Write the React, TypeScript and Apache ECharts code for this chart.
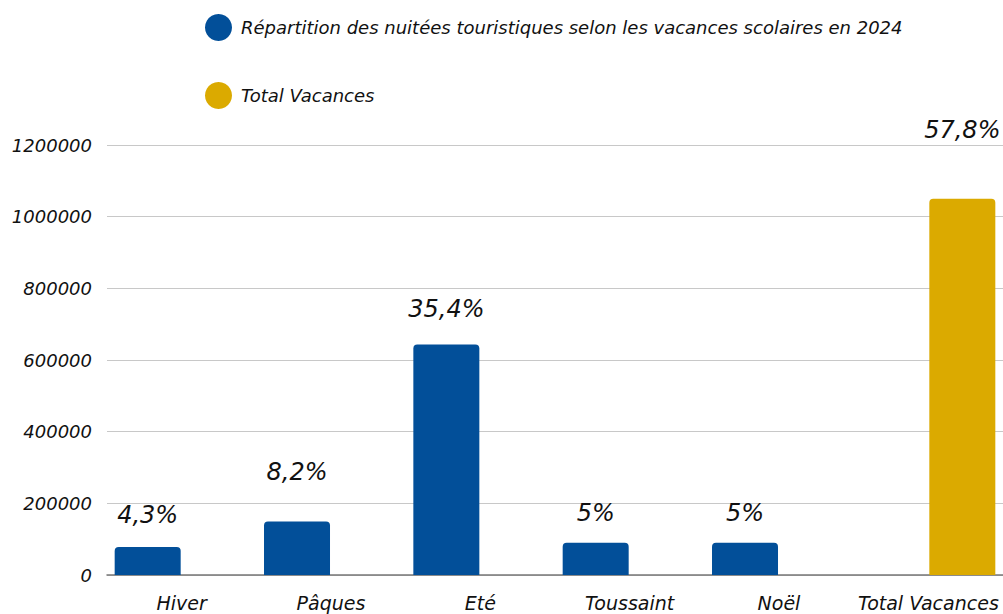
import React, { useEffect, useRef } from "react";
import * as echarts from "echarts";

const categories = ["Hiver", "Pâques", "Eté", "Toussaint", "Noël", "Total Vacances"];
const seriesNames = [
  "Répartition des nuitées touristiques selon les vacances scolaires en 2024",
  "Total Vacances",
];
const vacancesValues = [78000, 149000, 643000, 90000, 90000, null];
const totalValues = [null, null, null, null, null, 1050000];
const vacancesLabels = ["4,3%", "8,2%", "35,4%", "5%", "5%", ""];
const totalLabels = ["", "", "", "", "", "57,8%"];
const vacancesLabelDistance = [20, 38, 24, 18, 18, 0];
const totalLabelDistance = [0, 0, 0, 0, 0, 57];

const FONT = "'DejaVu Sans', sans-serif";
const BLUE = "#024f99";
const GOLD = "#dbaa00";

export default function App() {
  const ref = useRef<HTMLDivElement>(null);
  useEffect(() => {
    if (!ref.current) return;
    const chart = echarts.init(ref.current, null, { renderer: "svg" });
    const mk = (vals: (number | null)[], dist: number[]) =>
      vals.map((v, i) => ({ value: v, label: { distance: dist[i] } }));
    chart.setOption({
      animation: false,
      textStyle: { fontFamily: FONT },
      legend: {
        orient: "vertical",
        left: 200,
        top: 9,
        itemGap: 41,
        itemWidth: 27,
        itemHeight: 27,
        icon: "circle",
        textStyle: {
          fontFamily: FONT,
          fontStyle: "italic",
          fontSize: 18,
          color: "#111",
          padding: [0, 0, 0, 4],
        },
        data: seriesNames,
      },
      grid: { left: 107, right: -4, top: 145, bottom: 39, containLabel: false },
      xAxis: {
        type: "category",
        data: categories,
        axisTick: { show: false },
        axisLine: { lineStyle: { color: "#777", width: 1.5 } },
        axisLabel: {
          interval: 0,
          fontFamily: FONT,
          fontStyle: "italic",
          fontSize: 19,
          color: "#111",
          margin: 18,
        },
      },
      yAxis: {
        type: "value",
        min: 0,
        max: 1200000,
        interval: 200000,
        axisLine: { show: false },
        axisTick: { show: false },
        splitLine: { lineStyle: { color: "#c8c8c8", width: 1 } },
        axisLabel: {
          fontFamily: FONT,
          fontStyle: "italic",
          fontSize: 18,
          color: "#111",
          margin: 15,
          formatter: (v: number) => String(v),
        },
      },
      series: [
        {
          name: seriesNames[0],
          type: "bar",
          data: mk(vacancesValues, vacancesLabelDistance),
          barWidth: 66,
          barGap: "3%",
          itemStyle: { color: BLUE, borderRadius: [4, 4, 0, 0] },
          label: {
            show: true,
            position: "top",
            fontFamily: FONT,
            fontStyle: "italic",
            fontSize: 24,
            color: "#111",
            formatter: (p: any) => vacancesLabels[p.dataIndex],
          },
        },
        {
          name: seriesNames[1],
          type: "bar",
          data: mk(totalValues, totalLabelDistance),
          barWidth: 66,
          itemStyle: { color: GOLD, borderRadius: [4, 4, 0, 0] },
          label: {
            show: true,
            position: "top",
            fontFamily: FONT,
            fontStyle: "italic",
            fontSize: 24,
            color: "#111",
            formatter: (p: any) => totalLabels[p.dataIndex],
          },
        },
      ],
    });
    return () => chart.dispose();
  }, []);
  return (
    <div
      ref={ref}
      style={{ position: "fixed", left: 0, top: 0, width: 1003, height: 614, background: "#fff" }}
    />
  );
}
